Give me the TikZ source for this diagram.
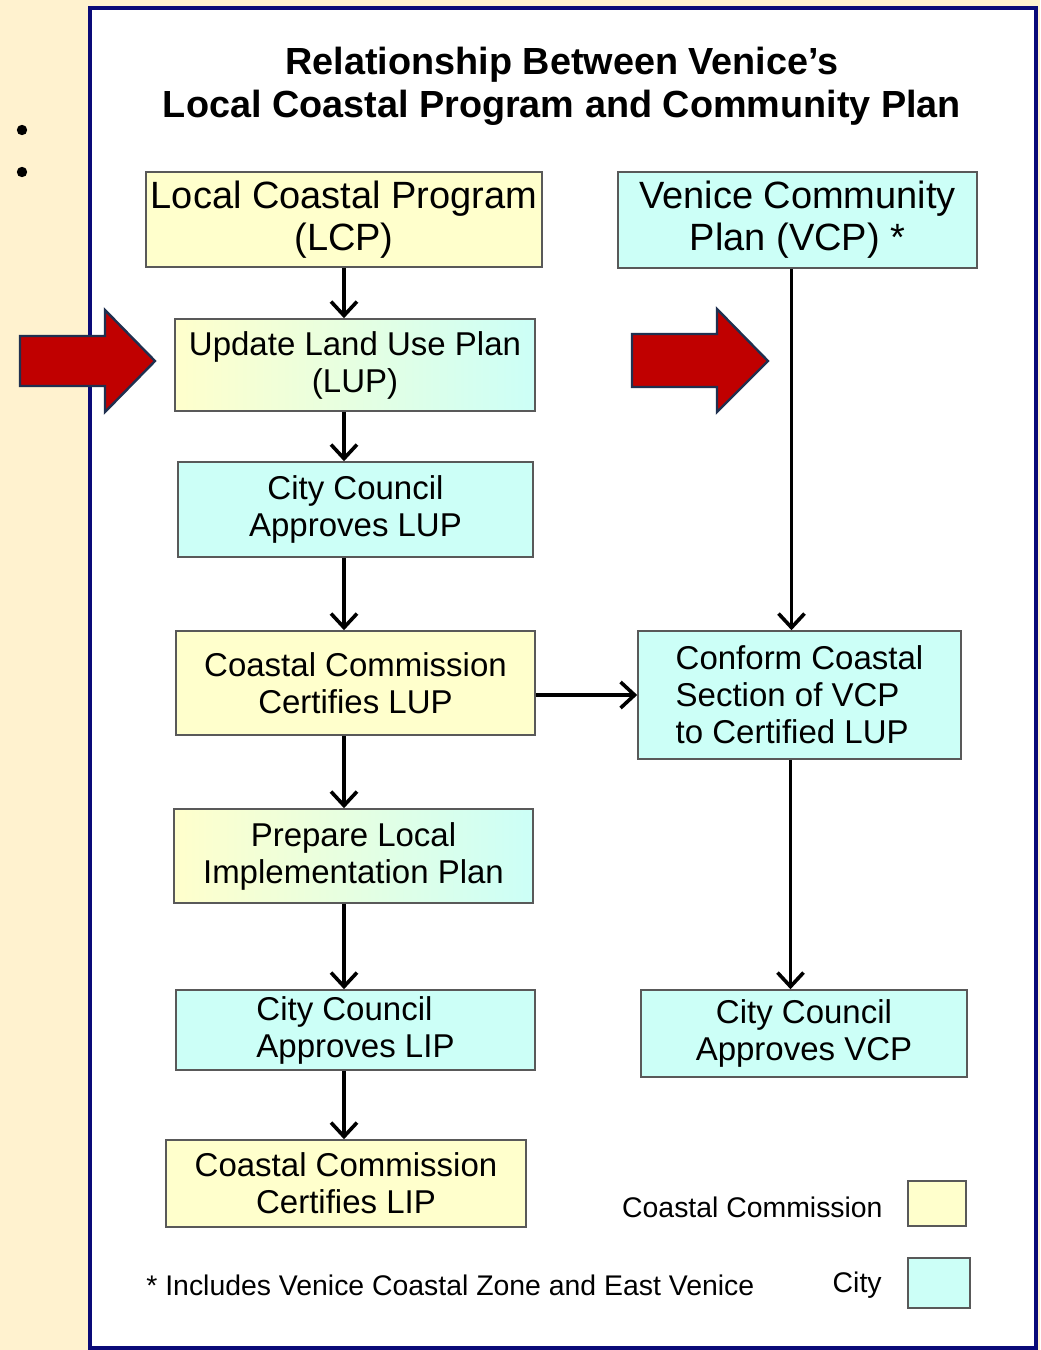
\documentclass[tikz,border=0pt]{standalone}
\usepackage{fontspec}
\setmainfont{Liberation Sans}
\usetikzlibrary{arrows.meta}
\definecolor{ccyellow}{HTML}{FFFFCC}
\definecolor{citycyan}{HTML}{CCFFF7}
\definecolor{pagecream}{HTML}{FFF2CF}
\definecolor{framenavy}{HTML}{0A0A78}
\definecolor{blockred}{HTML}{C00000}
\definecolor{blockedge}{HTML}{1F3050}

\begin{document}
\begin{tikzpicture}[
        x=0.5pt, y=-0.5pt,
        every node/.style={font=\fontsize{16.5}{18.5}\selectfont},
        box/.style={rectangle, draw=black!65, line width=0.8pt, align=center, inner sep=0pt},
        coastal/.style={box, fill=ccyellow},
        city/.style={box, fill=citycyan},
        mixed/.style={box, left color=ccyellow, right color=citycyan},
        swatch/.style={draw=black!65, line width=0.8pt},
        legendtext/.style={font=\fontsize{14.2}{17}\selectfont, inner sep=0pt},
        arrow/.style={-{Straight Barb[length=7pt, width=13pt, line width=1.8pt]}, line width=1.6pt},
        bigarrow/.style={fill=blockred, draw=blockedge, line width=1.2pt, line join=miter}
    ]
        % Page and frame
        \fill[pagecream] (0,0) rectangle (1040,1350);
        \useasboundingbox (0,0) rectangle (1040,1350);
        \draw[framenavy, line width=2pt, fill=white] (90,8) rectangle (1036,1348);
        \fill (22,130) circle (2.6pt);
        \fill (22,172) circle (2.6pt);

        % Title
        \node[font=\bfseries\fontsize{18.9}{21.5}\selectfont, align=center] (title) at (562,86)
            {Relationship Between Venice’s\\Local Coastal Program and Community Plan};

        % Nodes
        \node[coastal, minimum width=198pt, minimum height=47.5pt, font=\fontsize{19}{21}\selectfont]
            (lcp) at (344,219.5) {Local Coastal Program\\(LCP)};
        \node[city, minimum width=179.5pt, minimum height=48pt, font=\fontsize{19}{21}\selectfont]
            (vcp) at (797.5,220) {Venice Community\\Plan (VCP) *};
        \node[mixed, minimum width=180pt, minimum height=46pt] (lup) at (355,365)
            {Update Land Use Plan\\(LUP)};
        \node[city, minimum width=177.5pt, minimum height=47.5pt] (cclup) at (355.5,509.5)
            {City Council\\Approves LUP};
        \node[coastal, minimum width=179.5pt, minimum height=52pt] (ccclup) at (355.5,683)
            {Coastal Commission\\Certifies LUP};
        \node[city, minimum width=161.5pt, minimum height=64pt, align=left] (conform) at (799.5,695)
            {Conform Coastal\\Section of VCP\\to Certified LUP};
        \node[mixed, minimum width=179.5pt, minimum height=47pt] (lip) at (353.5,856)
            {Prepare Local\\Implementation Plan};
        \node[city, minimum width=179.5pt, minimum height=40pt, align=left] (cclip) at (355.5,1030)
            {City Council\\Approves LIP};
        \node[coastal, minimum width=180pt, minimum height=43.5pt] (ccclip) at (346,1183.5)
            {Coastal Commission\\Certifies LIP};
        \node[city, minimum width=163pt, minimum height=43.5pt] (ccvcp) at (804,1033.5)
            {City Council\\Approves VCP};

        % Legend
        \node[legendtext, anchor=east] (legcoastal) at (883,1207) {Coastal Commission};
        \node[legendtext, anchor=east] (legcity) at (882,1285) {City};
        \node[legendtext, anchor=west] (note) at (146,1285) {* Includes Venice Coastal Zone and East Venice};
        \draw[swatch, fill=ccyellow] (908,1181) rectangle (966,1226);
        \draw[swatch, fill=citycyan] (908,1258) rectangle (970,1308);

        % Red block arrows
        \draw[bigarrow] (20,336) -- (105,336) -- (105,310) -- (155,361) -- (105,412) -- (105,386) -- (20,386) -- cycle;
        \draw[bigarrow] (632,334) -- (717,334) -- (717,309) -- (768,361) -- (717,412) -- (717,387) -- (632,387) -- cycle;

        % Arrows (LCP column)
        \draw[arrow] (lcp.south) -- (lup.north -| lcp);
        \draw[arrow] (lup.south -| lcp) -- (cclup.north -| lcp);
        \draw[arrow] (cclup.south -| lcp) -- (ccclup.north -| lcp);
        \draw[arrow] (ccclup.south -| lcp) -- (lip.north -| lcp);
        \draw[arrow] (lip.south -| lcp) -- (cclip.north -| lcp);
        \draw[arrow] (cclip.south -| lcp) -- (ccclip.north -| lcp);

        % Arrows (VCP column)
        \draw[arrow] ([xshift=-3pt]vcp.south) -- ([xshift=-3pt]vcp.south |- conform.north);
        \draw[arrow] ([xshift=-4.5pt]conform.south) -- ([xshift=-4.5pt]conform.south |- ccvcp.north);
        \draw[arrow] (ccclup.east |- conform.west) -- (conform.west);

    \end{tikzpicture}
\end{document}
